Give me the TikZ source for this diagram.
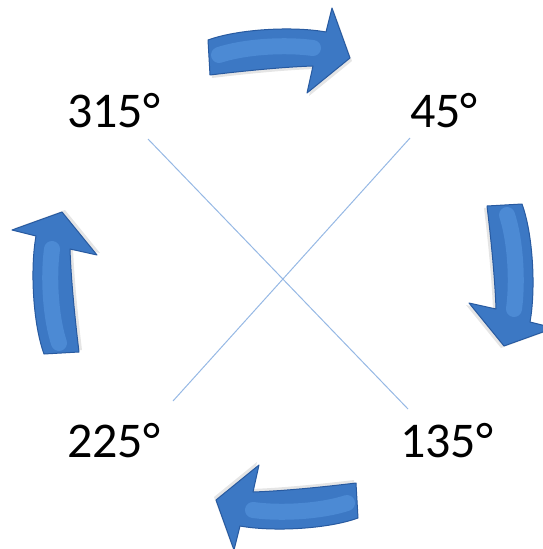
\documentclass[tikz,border=0pt]{standalone}
\usepackage{fontspec}
\setmainfont{Carlito}
\usetikzlibrary{positioning}
\definecolor{arrowBlue}{RGB}{60,120,196}
\definecolor{arrowDark}{RGB}{40,90,160}
\definecolor{arrowLight}{RGB}{76,138,212}
\definecolor{lineBlue}{RGB}{150,184,228}

\tikzset{
  bend arrow/.pic={
    \fill[black!10, shift={(2,3)}] (-73,-204) -- (-75,-239)
      .. controls (-45,-250) and (10,-253) .. (43,-247) -- (49,-271) -- (67,-221)
      -- (24,-186) -- (30,-213) .. controls (0,-212) and (-40,-208) .. (-73,-204) -- cycle;
    \filldraw[fill=arrowBlue, draw=arrowDark, line width=1pt, line join=round]
      (-73,-204) -- (-75,-239)
      .. controls (-45,-250) and (10,-253) .. (43,-247) -- (49,-271) -- (67,-221)
      -- (24,-186) -- (30,-213) .. controls (0,-212) and (-40,-208) .. (-73,-204) -- cycle;
    \draw[arrowLight, line width=16pt, line cap=round]
      (-64,-224) .. controls (-40,-232) and (0,-235) .. (30,-231);
  }
}

\begin{document}
\begin{tikzpicture}[x=1pt, y=-1pt,
    deg/.style={font=\fontsize{50}{60}\selectfont, inner sep=0pt, anchor=base west},
    cross/.style={lineBlue, line width=1pt}
  ]
  \useasboundingbox (0,0) rectangle (542,549);
  \coordinate (centre) at (283,279);

  % turning arrows, clockwise
  \pic at (centre) {bend arrow};
  \pic[rotate=-90] at (centre) {bend arrow};
  \pic[rotate=180] at (centre) {bend arrow};
  \pic[rotate=90] at (centre) {bend arrow};

  \node[deg] (d315) at (67,127) {315°};
  \node[deg] (d45)  at (410,127) {45°};
  \node[deg] (d225) at (67,457) {225°};
  \node[deg] (d135) at (400,457) {135°};

  \coordinate (nw) at (148,139);
  \coordinate (ne) at (410,138);
  \coordinate (sw) at (173,401);
  \coordinate (se) at (408,409);
  \draw[cross] (nw) -- (se);
  \draw[cross] (ne) -- (sw);
\end{tikzpicture}
\end{document}
